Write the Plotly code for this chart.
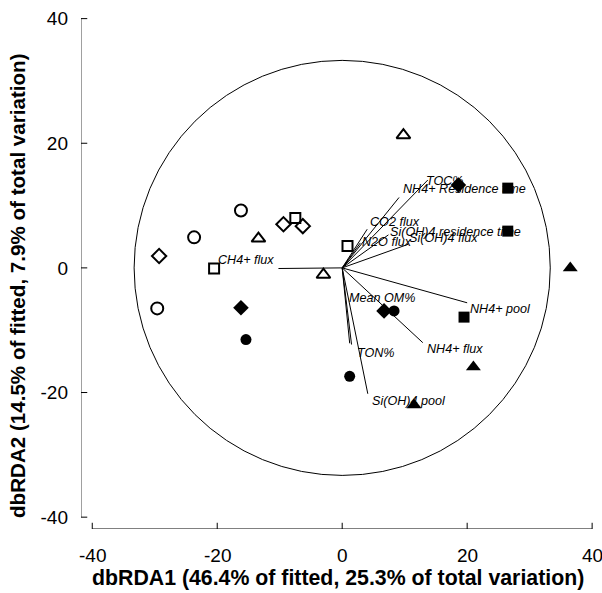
import plotly.graph_objects as go

# ---- sample scores (dbRDA1, dbRDA2) ----
open_circle_x = [-29.6, -23.7, -16.2]
open_circle_y = [-6.5, 4.9, 9.2]
filled_circle_x = [-15.4, 1.2, 8.3]
filled_circle_y = [-11.5, -17.4, -6.9]
open_diamond_x = [-29.3, -9.4, -6.3]
open_diamond_y = [1.9, 7.0, 6.7]
filled_diamond_x = [-16.2, 6.7, 18.6]
filled_diamond_y = [-6.4, -6.9, 13.3]
open_square_x = [-20.5, -7.5, 0.85]
open_square_y = [-0.1, 8.0, 3.5]
filled_square_x = [26.5, 26.5, 19.5]
filled_square_y = [12.8, 5.9, -7.9]
open_triangle_x = [-13.4, -3.0, 9.8]
open_triangle_y = [4.7, -1.1, 21.3]
filled_triangle_x = [36.5, 21.0, 11.5]
filled_triangle_y = [0.0, -15.9, -22.0]

# ---- predictor vectors ----
vector_names = ["CH4+ flux", "TOC%", "NH4+ Residence time", "CO2 flux",
                "Si(OH)4 residence time", "N2O flux", "Si(OH)4 flux",
                "Mean OM%", "NH4+ pool", "NH4+ flux", "TON%", "Si(OH)4 pool"]
vector_x = [-10.2, 13.7, 9.1, 4.0, 7.4, 2.9, 10.6, 1.2, 20.0, 12.9, 1.5, 4.1]
vector_y = [-0.1, 14.1, 11.3, 6.2, 5.3, 4.0, 3.8, -12.1, -5.6, -12.0, -12.3, -20.2]
label_x = [-10.6, 13.1, 9.4, 4.2, 7.4, 2.8, 10.4, 0.75, 20.2, 13.2, 2.0, 4.5]
label_y = [1.3, 14.0, 12.7, 7.4, 5.8, 4.1, 4.8, -4.9, -6.6, -13.0, -13.6, -21.4]
label_align = ["right", "left", "left", "left", "left", "left", "left",
               "left", "left", "left", "left", "left"]

circle_radius = 33.3

x_ticks = [-40, -20, 0, 20, 40]
y_ticks = [-40, -20, 0, 20, 40]
x_title = "dbRDA1 (46.4% of fitted, 25.3% of total variation)"
y_title = "dbRDA2 (14.5% of fitted, 7.9% of total variation)"

FONT = "Arial, Liberation Sans, sans-serif"

fig = go.Figure()

# vectors
vx, vy = [], []
for x, y in zip(vector_x, vector_y):
    vx += [0, x, None]
    vy += [0, y, None]
fig.add_trace(go.Scatter(x=vx, y=vy, mode="lines",
                         line=dict(color="black", width=1), hoverinfo="skip"))

groups = [
    (open_circle_x, open_circle_y, "circle-open", 12, 2),
    (filled_circle_x, filled_circle_y, "circle", 11, 0),
    (open_diamond_x, open_diamond_y, "diamond-open", 11, 2),
    (filled_diamond_x, filled_diamond_y, "diamond", 12, 0),
    (open_square_x, open_square_y, "square-open", 10, 2),
    (filled_square_x, filled_square_y, "square", 11, 0),
    (open_triangle_x, open_triangle_y, "triangle-up-open", 12, 2),
    (filled_triangle_x, filled_triangle_y, "triangle-up", 13, 0),
]
for gx, gy, sym, size, lw in groups:
    fig.add_trace(go.Scatter(x=gx, y=gy, mode="markers",
                             marker=dict(symbol=sym, size=size, color="black",
                                         line=dict(color="black", width=lw))))

# vector labels
for name, lx, ly, al in zip(vector_names, label_x, label_y, label_align):
    fig.add_annotation(x=lx, y=ly, text="<i>" + name + "</i>", showarrow=False,
                       xanchor=al, yanchor="middle",
                       font=dict(family=FONT, size=12.6, color="black"))

# circle
fig.add_shape(type="circle", xref="x", yref="y",
              x0=-circle_radius, y0=-circle_radius, x1=circle_radius, y1=circle_radius,
              line=dict(color="black", width=1))

# detached axes lines + crossing ticks
x_axis_y = -41.9
y_axis_x = -41.8
fig.add_shape(type="line", xref="x", yref="y", x0=x_ticks[0], x1=x_ticks[-1],
              y0=x_axis_y, y1=x_axis_y, line=dict(color="black", width=1))
for t in x_ticks:
    fig.add_shape(type="line", xref="x", yref="y", x0=t, x1=t,
                  y0=x_axis_y - 1.0, y1=x_axis_y + 1.0, line=dict(color="black", width=1))
    fig.add_annotation(xref="x", yref="paper", x=t, y=0, yshift=-26,
                       text=str(t), showarrow=False, xanchor="center", yanchor="middle",
                       font=dict(family=FONT, size=19, color="black"))
fig.add_shape(type="line", xref="x", yref="y", x0=y_axis_x, x1=y_axis_x,
              y0=y_ticks[0], y1=y_ticks[-1], line=dict(color="#808080", width=1.5))
for t in y_ticks:
    fig.add_shape(type="line", xref="x", yref="y", x0=y_axis_x - 1.4, x1=y_axis_x + 1.0,
                  y0=t, y1=t, line=dict(color="black", width=1))

# axis titles
fig.add_annotation(xref="paper", yref="paper", x=0.501, y=0, yshift=-49,
                   text="<b>" + x_title + "</b>", showarrow=False,
                   xanchor="center", yanchor="middle",
                   font=dict(family=FONT, size=21.3, color="black"))
fig.add_annotation(xref="paper", yref="paper", x=0, xshift=-64, y=0.4755,
                   text="<b>" + y_title + "</b>", showarrow=False, textangle=-90,
                   xanchor="center", yanchor="middle",
                   font=dict(family=FONT, size=20.6, color="black"))

fig.update_layout(
    width=602, height=593,
    margin=dict(l=81, r=8, t=18, b=64),
    paper_bgcolor="white", plot_bgcolor="white",
    showlegend=False,
    xaxis=dict(range=[y_axis_x, 40.3], showticklabels=False,
               showgrid=False, zeroline=False, showline=False, ticks=""),
    yaxis=dict(range=[x_axis_y, 40.1], tickvals=y_ticks, ticktext=[str(t) for t in y_ticks],
               showgrid=False, zeroline=False, showline=False, ticks="",
               ticklabelstandoff=12, tickfont=dict(family=FONT, size=19, color="black")),
)

fig.write_html("out.html", config={"displayModeBar": False},
               post_script="document.body.style.margin='0';document.body.style.overflow='hidden';")
